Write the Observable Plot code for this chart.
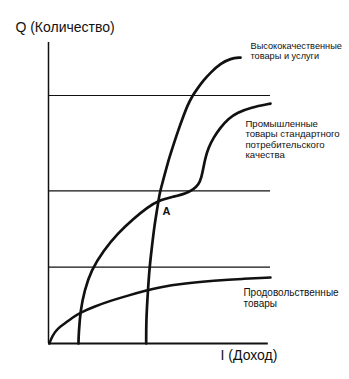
<!DOCTYPE html>
<html>
<head>
<meta charset="utf-8">
<script src="https://cdn.jsdelivr.net/npm/d3@7"></script>
<script src="https://cdn.jsdelivr.net/npm/@observablehq/plot@0.6"></script>
<style>
  html, body { margin: 0; padding: 0; background: #fff; }
  #chart svg { display: block; }
</style>
</head>
<body>
<div id="chart"></div>
<script>
// Income (I) and quantity (Q) in arbitrary units (0–100)
const foodI = [0.4, 1.8, 4.1, 7.2, 10.8, 14.4, 20.7, 28.4, 35.6, 44.1, 50, 60, 75, 87, 100];
const foodQ = [0, 2.7, 5.0, 6.6, 8.6, 10.3, 12.3, 14.3, 15.9, 17.6, 18.7, 19.9, 20.9, 21.5, 21.9];

const industI = [13.5, 13.6, 14.4, 16.2, 19.2, 24.8, 31.1, 38.3, 44.6, 49.5, 56.3, 61.7, 65.3, 67.6, 68.9, 69.8, 70.7, 72.1, 74.3, 77.5, 81.1, 85.1, 91.0, 100];
const industQ = [0, 3.3, 11.0, 17.6, 24.3, 30.9, 36.5, 41.5, 45.2, 47.5, 48.8, 49.8, 51.2, 52.8, 55.1, 58.5, 61.8, 65.1, 68.4, 71.8, 74.8, 76.7, 78.4, 79.7];

const luxI = [44.0, 44.0, 44.7, 45.5, 46.4, 47.7, 49.1, 50.0, 51.4, 53.6, 55.9, 58.1, 60.4, 62.6, 64.9, 67.1, 69.8, 73.0, 77.5, 82.0, 86.5];
const luxQ = [0, 7.6, 16.6, 25.2, 30.9, 39.2, 45.2, 49.8, 53.5, 59.8, 65.1, 70.1, 74.8, 79.1, 82.4, 84.7, 87.4, 90.0, 93.0, 94.7, 95.0];

// Horizontal reference levels of Q
const levels = [25.4, 50.7, 82.4];

// Texts
const yTitle = "Q (Количество)";
const xTitle = "I (Доход)";
const foodLabel = "Продовольственные\nтовары";
const industLabel = "Промышленные\nтовары стандартного\nпотребительского\nкачества";
const luxLabel = "Высококачественные\nтовары и услуги";
const pointLabel = "A";

const toRows = (xs, ys) => xs.map((x, i) => ({I: x, Q: ys[i]}));
const food = toRows(foodI, foodQ);
const indust = toRows(industI, industQ);
const lux = toRows(luxI, luxQ);

const font = "Liberation Sans, Arial, Helvetica, sans-serif";

const chart = Plot.plot({
  width: 349,
  height: 379,
  marginLeft: 48,
  marginRight: 79,
  marginTop: 42,
  marginBottom: 36,
  x: {domain: [0, 100], axis: null},
  y: {domain: [0, 100], axis: null},
  style: {fontFamily: font, background: "#fff", overflow: "visible"},
  marks: [
    Plot.ruleY(levels, {x1: 0, x2: 100, stroke: "#111", strokeWidth: 1.2}),
    Plot.ruleX([0], {y1: 0, y2: 100, stroke: "#111", strokeWidth: 1.5}),
    Plot.ruleY([0], {x1: 0, x2: 99, stroke: "#111", strokeWidth: 2}),
    Plot.line(food, {x: "I", y: "Q", curve: "basis", stroke: "#111", strokeWidth: 2.5}),
    Plot.line(indust, {x: "I", y: "Q", curve: "basis", stroke: "#111", strokeWidth: 2.7}),
    Plot.line(lux, {x: "I", y: "Q", curve: "basis", stroke: "#111", strokeWidth: 2.7}),
    Plot.text([yTitle], {x: -14.9, y: 105.1, text: d => d, textAnchor: "start", fontSize: 14, fill: "#111"}),
    Plot.text([xTitle], {x: 77.5, y: -4.0, text: d => d, textAnchor: "start", fontSize: 14, fill: "#111"}),
    Plot.text([luxLabel], {x: 91.0, y: 97.3, text: d => d, textAnchor: "start", fontSize: 9.2, lineHeight: 1.15, fill: "#111"}),
    Plot.text([industLabel], {x: 88.7, y: 67.9, text: d => d, textAnchor: "start", fontSize: 9.6, lineHeight: 1.1, fill: "#111"}),
    Plot.text([foodLabel], {x: 87.8, y: 15.1, text: d => d, textAnchor: "start", fontSize: 10, lineHeight: 1.05, fill: "#111"}),
    Plot.text([pointLabel], {x: 51.4, y: 43.9, text: d => d, textAnchor: "start", fontSize: 11, fontWeight: "bold", fill: "#111"})
  ]
});
document.getElementById("chart").appendChild(chart);
</script>
</body>
</html>
